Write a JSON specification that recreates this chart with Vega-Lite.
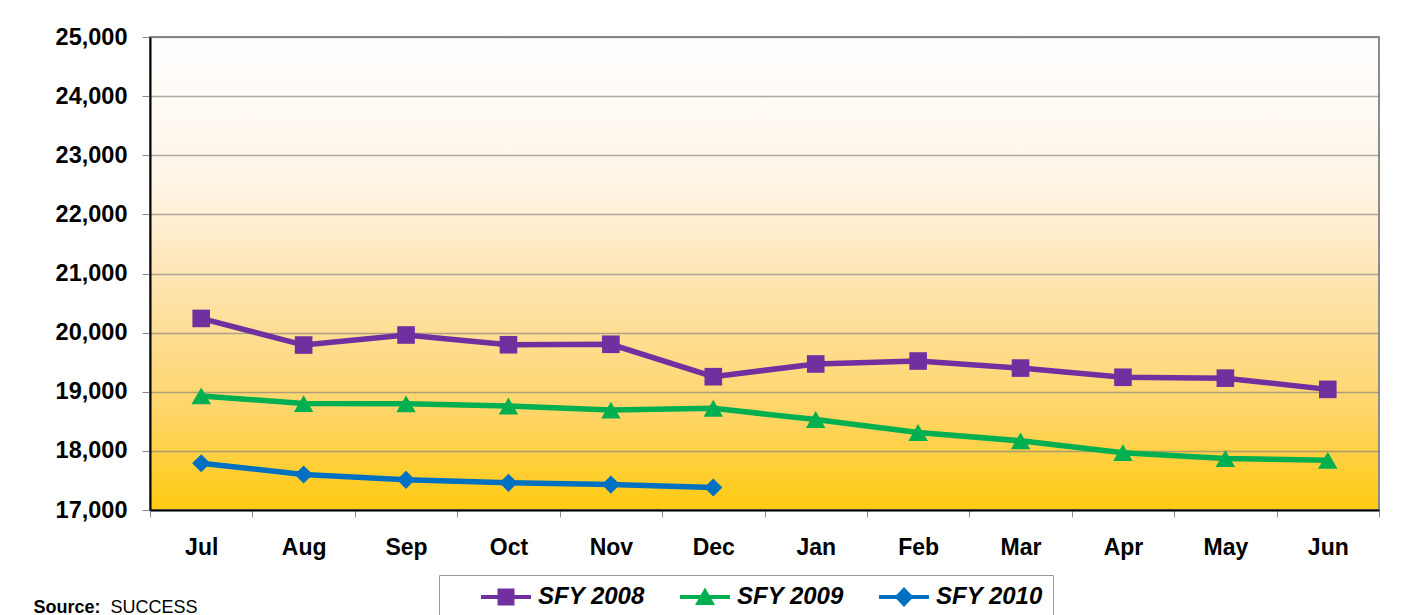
{
  "$schema": "https://vega.github.io/schema/vega-lite/v6.json",
  "width": 1229,
  "height": 473,
  "autosize": {"type": "none"},
  "padding": {"left": 150, "top": 37, "right": 35, "bottom": 105},
  "background": "#FFFFFF",
  "config": {
    "font": "Liberation Sans",
    "view": {
      "fill": {"gradient": "linear", "x1": 0, "y1": 0, "x2": 0, "y2": 1,
        "stops": [
          {"offset": 0, "color": "#FFFFFF"},
          {"offset": 0.3, "color": "#FFF5E8"},
          {"offset": 0.55, "color": "#FEE2A8"},
          {"offset": 0.8, "color": "#FED566"},
          {"offset": 1, "color": "#FFCA10"}
        ]},
      "stroke": "#8C8C8C",
      "strokeWidth": 2
    }
  },
  "data": {"values": [
    {"month": "Jul", "series": "SFY 2008", "value": 20240},
    {"month": "Aug", "series": "SFY 2008", "value": 19790},
    {"month": "Sep", "series": "SFY 2008", "value": 19960},
    {"month": "Oct", "series": "SFY 2008", "value": 19795},
    {"month": "Nov", "series": "SFY 2008", "value": 19803},
    {"month": "Dec", "series": "SFY 2008", "value": 19255},
    {"month": "Jan", "series": "SFY 2008", "value": 19470},
    {"month": "Feb", "series": "SFY 2008", "value": 19520},
    {"month": "Mar", "series": "SFY 2008", "value": 19400},
    {"month": "Apr", "series": "SFY 2008", "value": 19245},
    {"month": "May", "series": "SFY 2008", "value": 19230},
    {"month": "Jun", "series": "SFY 2008", "value": 19040},
    {"month": "Jul", "series": "SFY 2009", "value": 18930},
    {"month": "Aug", "series": "SFY 2009", "value": 18800},
    {"month": "Sep", "series": "SFY 2009", "value": 18795},
    {"month": "Oct", "series": "SFY 2009", "value": 18760},
    {"month": "Nov", "series": "SFY 2009", "value": 18690},
    {"month": "Dec", "series": "SFY 2009", "value": 18720},
    {"month": "Jan", "series": "SFY 2009", "value": 18530},
    {"month": "Feb", "series": "SFY 2009", "value": 18310},
    {"month": "Mar", "series": "SFY 2009", "value": 18170},
    {"month": "Apr", "series": "SFY 2009", "value": 17970},
    {"month": "May", "series": "SFY 2009", "value": 17870},
    {"month": "Jun", "series": "SFY 2009", "value": 17840},
    {"month": "Jul", "series": "SFY 2010", "value": 17790},
    {"month": "Aug", "series": "SFY 2010", "value": 17600},
    {"month": "Sep", "series": "SFY 2010", "value": 17510},
    {"month": "Oct", "series": "SFY 2010", "value": 17460},
    {"month": "Nov", "series": "SFY 2010", "value": 17430},
    {"month": "Dec", "series": "SFY 2010", "value": 17380}
  ]},
  "encoding": {
    "x": {
      "field": "month", "type": "ordinal",
      "sort": ["Jul","Aug","Sep","Oct","Nov","Dec","Jan","Feb","Mar","Apr","May","Jun"],
      "bandPosition": 0.5,
      "scale": {"type": "band", "paddingInner": 0, "paddingOuter": 0},
      "axis": {
        "title": "SUCCESS", "titleX": -40, "titleY": 102, "titleAlign": "left",
        "titleBaseline": "alphabetic", "titleFontSize": 18, "titleFontWeight": "normal", "titleColor": "#000000",
        "labelAngle": 0, "labelFontSize": 23, "labelFontWeight": "bold", "labelColor": "#000000",
        "labelPadding": 19, "tickBand": "extent", "tickSize": 7, "tickColor": "#8C8C8C", "tickWidth": 1,
        "domainColor": "#000000", "domainWidth": 2, "grid": false
      }
    },
    "y": {
      "field": "value", "type": "quantitative",
      "scale": {"domain": [17000, 25000], "nice": false, "zero": false},
      "axis": {
        "title": "Source:", "titleAngle": 0, "titleX": -117, "titleY": 575, "titleAlign": "left",
        "titleBaseline": "alphabetic", "titleFontSize": 18, "titleFontWeight": "bold", "titleColor": "#000000",
        "values": [17000,18000,19000,20000,21000,22000,23000,24000,25000],
        "format": ",.0f", "labelFontSize": 23.5, "labelFontWeight": "bold", "labelColor": "#000000",
        "labelPadding": 15, "tickSize": 8, "tickColor": "#8C8C8C", "tickWidth": 1,
        "domainColor": "#000000", "domainWidth": 2,
        "grid": true, "gridColor": "#7F7F7F", "gridOpacity": 0.65, "gridWidth": 1.5
      }
    },
    "color": {
      "field": "series", "type": "nominal",
      "scale": {"domain": ["SFY 2008", "SFY 2009", "SFY 2010"], "range": ["#7030A0", "#00B050", "#0070C0"]},
      "legend": {
        "title": null, "orient": "none", "legendX": 289, "legendY": 538, "direction": "horizontal",
        "columns": 3, "padding": 10, "strokeColor": "#999999", "fillColor": "#FFFFFF",
        "symbolSize": 400, "symbolStrokeWidth": 0, "symbolOffset": 45, "labelOffset": 20,
        "columnPadding": 3,
        "labelFontSize": 24, "labelFontWeight": "bold", "labelFontStyle": "italic", "labelColor": "#000000",
        "labelLimit": 300
      }
    }
  },
  "layer": [
    {"mark": {"type": "line", "strokeWidth": 5.5}},
    {
      "transform": [{"filter": "datum.series === 'SFY 2008'"}],
      "mark": {"type": "point", "filled": true, "opacity": 1, "size": 310, "shape": "square"}
    },
    {
      "transform": [{"filter": "datum.series === 'SFY 2009'"}],
      "mark": {"type": "point", "filled": true, "opacity": 1, "size": 380, "shape": "triangle-up"}
    },
    {
      "transform": [{"filter": "datum.series === 'SFY 2010'"}],
      "mark": {"type": "point", "filled": true, "opacity": 1, "size": 330, "shape": "diamond"}
    },
    {
      "transform": [{"filter": "false"}],
      "mark": {"type": "point", "filled": true, "opacity": 1},
      "encoding": {
        "shape": {"field": "series", "type": "nominal",
          "scale": {"domain": ["SFY 2008", "SFY 2009", "SFY 2010"],
            "range": ["M-2.5,-0.2H2.5V0.2H-2.5ZM-0.85,-0.85H0.85V0.85H-0.85Z", "M-2.5,-0.2H2.5V0.2H-2.5ZM-1,0.8L0,-0.95L1,0.8Z", "M-2.5,-0.2H2.5V0.2H-2.5ZM0,-1L0.95,0L0,1L-0.95,0Z"]},
          "legend": {
            "title": null, "orient": "none", "legendX": 289, "legendY": 538, "direction": "horizontal",
            "columns": 3, "padding": 10, "strokeColor": "#999999", "fillColor": "#FFFFFF",
            "symbolSize": 400, "symbolStrokeWidth": 0, "symbolOffset": 45, "labelOffset": 20,
            "columnPadding": 3,
            "labelFontSize": 24, "labelFontWeight": "bold", "labelFontStyle": "italic", "labelColor": "#000000",
            "labelLimit": 300
          }}
      }
    }
  ]
}
